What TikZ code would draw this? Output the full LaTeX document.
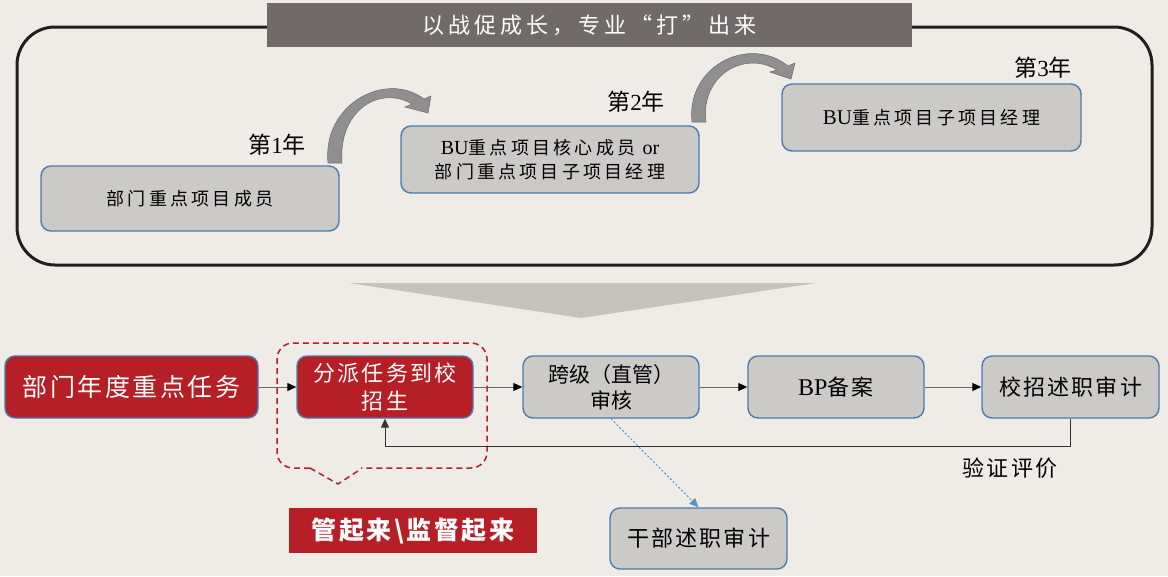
\documentclass[tikz,border=0pt]{standalone}
\usepackage{fontspec}
\setmainfont{Liberation Serif}
\newfontfamily\cjk{Noto Sans CJK SC}
\newfontfamily\cjks{Noto Sans CJK SC}[LetterSpace=18]
\newfontfamily\cjkm{Noto Sans CJK SC}[LetterSpace=10]
\usetikzlibrary{arrows.meta}
\definecolor{bgc}{HTML}{EFECE8}
\definecolor{boxfill}{HTML}{CCCAC7}
\definecolor{boxline}{HTML}{4B7BAE}
\definecolor{redc}{HTML}{B51F25}
\definecolor{titlec}{HTML}{706B68}
\definecolor{wedgec}{HTML}{C5C1BB}
\definecolor{curvec}{HTML}{8F8F8F}
\definecolor{curveline}{HTML}{6A6A6A}
\definecolor{dotc}{HTML}{5B8FC7}
\newcommand\fs[1]{\fontsize{#1pt}{\dimexpr #1pt*5/4\relax}\selectfont}
\tikzset{
  graybox/.style={draw=boxline, line width=1.4pt, fill=boxfill, rounded corners=10pt, align=center, inner sep=0pt, text=black},
  redbox/.style={draw=boxline, line width=1.4pt, fill=redc, rounded corners=10pt, align=center, inner sep=0pt, text=white},
  flow/.style={draw=black!60, line width=1pt, -{Triangle[length=9pt,width=8pt,color=black,fill=black]}},
  yearlbl/.style={inner sep=0pt, font=\fs{23}},
  curvearrow/.style={fill=curvec, draw=curveline, line width=0.5pt},
}
\begin{document}
\begin{tikzpicture}[x=1pt,y=-1pt]
\fill[bgc] (0,0) rectangle (1168,576);
\useasboundingbox (0,0) rectangle (1168,576);
% big frame
\draw[line width=3pt, black!88, rounded corners=38pt] (17,27) rectangle (1152,265);
% title
\node[fill=titlec, minimum width=645pt, minimum height=44pt, inner sep=0pt, text=white, font=\cjks\fs{22}] (title) at (589.5,25) {以战促成长，专业“打”出来};
% year boxes
\node[graybox, minimum width=298pt, minimum height=65pt, font=\cjks\fs{18}] (y1) at (190,198.5) {部门重点项目成员};
\node[graybox, minimum width=298pt, minimum height=67pt, font=\cjks\fs{18}] (y2) at (550,159.5) {{\rmfamily\fs{20}BU}重点项目核心成员 {\rmfamily\fs{20}or}\\[1pt]部门重点项目子项目经理};
\node[graybox, minimum width=299pt, minimum height=67pt, font=\cjks\fs{18}] (y3) at (931.5,117.5) {{\rmfamily\fs{21}BU}重点项目子项目经理};
\node[yearlbl] (l1) at (277,145) {{\cjk 第}1{\cjk 年}};
\node[yearlbl] (l2) at (636,102) {{\cjk 第}2{\cjk 年}};
\node[yearlbl] (l3) at (1043,68) {{\cjk 第}3{\cjk 年}};
% curved arrows
\path[curvearrow] (328,163) .. controls (322,105) and (385,70) .. (424,99) -- (431,96) -- (428,113) -- (405,107) -- (412,104) .. controls (380,85) and (338,110) .. (342,163) -- cycle;
\path[curvearrow] (692,122) .. controls (686,65) and (750,35) .. (788,66) -- (795,63) -- (791,79) -- (770,72) -- (777,70) .. controls (745,50) and (700,75) .. (706,122) -- cycle;
% wedge
\fill[wedgec] (349,283) -- (816,283) -- (581,318) -- cycle;
% callout
\draw[redc, line width=1.5pt, dash pattern=on 6pt off 4pt, rounded corners=16pt] (310,468) -- (277,468) -- (277,343) -- (487,343) -- (487,468) -- (361,468);
\draw[redc, line width=1.5pt, dash pattern=on 6pt off 4pt] (310,468) -- (338,484) -- (361,469);
% flow boxes
\node[redbox, minimum width=253pt, minimum height=62pt, font=\cjkm\fs{25}] (A) at (131.5,387) {部门年度重点任务};
\node[redbox, minimum width=176pt, minimum height=62pt, font=\cjkm\fs{22}] (B) at (385,387) {分派任务到校\\招生};
\node[graybox, minimum width=176pt, minimum height=62pt, font=\cjk\fs{21}] (C) at (611,387) {跨级（直管）\\审核};
\node[graybox, minimum width=176pt, minimum height=62pt, font=\cjkm\fs{22}] (D) at (836,387) {{\rmfamily\fs{24}BP}备案};
\node[graybox, minimum width=177pt, minimum height=62pt, font=\cjkm\fs{22}] (E) at (1070.5,387) {校招述职审计};
\node[graybox, minimum width=177pt, minimum height=61pt, font=\cjkm\fs{22}] (F) at (698.5,538.5) {干部述职审计};
\node[fill=redc, minimum width=248pt, minimum height=45pt, inner sep=0pt, text=white, font=\cjkm\bfseries\fs{25}] (G) at (413,530.5) {管起来\textbackslash 监督起来};
\node[inner sep=0pt, font=\cjkm\fs{22}] (V) at (1010,468) {验证评价};
% connectors
\draw[flow] (A) -- (B);
\draw[flow] (B) -- (C);
\draw[flow] (C) -- (D);
\draw[flow] (D) -- (E);
\draw[line width=1pt, black!80, -{Triangle[length=9pt,width=8pt]}] (E.south) -- ++(0,28) -| (B.south);
\draw[dotc, line width=1pt, dash pattern=on 2pt off 2pt, -{Triangle[length=9pt,width=8pt,color=dotc,fill=dotc]}] (C.south) -- (F.north);
\end{tikzpicture}
\end{document}
